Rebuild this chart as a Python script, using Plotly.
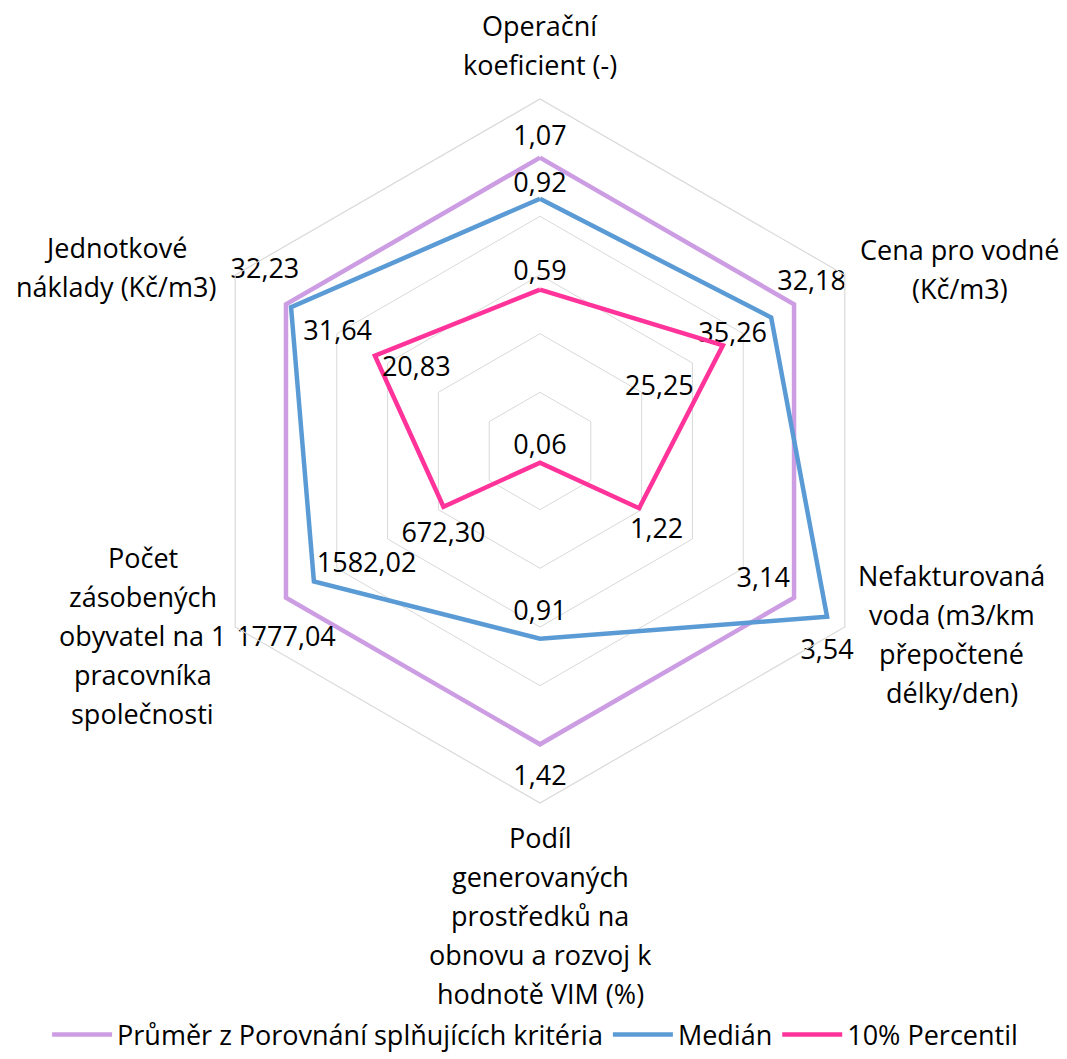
import plotly.graph_objects as go

categories = [
    "Operační<br>koeficient (-)",
    "Cena pro vodné<br>(Kč/m3)",
    "Nefakturovaná<br>voda (m3/km<br>přepočtené<br>délky/den)",
    "Podíl<br>generovaných<br>prostředků na<br>obnovu a rozvoj k<br>hodnotě VIM (%)",
    "Počet<br>zásobených<br>obyvatel na 1<br>pracovníka<br>společnosti",
    "Jednotkové<br>náklady (Kč/m3)",
]

series_names = ["Průměr z Porovnání splňujících kritéria", "Medián", "10% Percentil"]

# plotted (relative) values
prumer_r = [1.00, 1.00, 1.00, 1.00, 1.00, 1.00]
median_r = [0.86, 0.91, 1.13, 0.64, 0.89, 0.98]
perc10_r = [0.55, 0.72, 0.39, 0.04, 0.38, 0.65]

# data labels shown on the chart
prumer_lbl = ["1,07", "32,18", "3,14", "1,42", "1777,04", "32,23"]
median_lbl = ["0,92", "35,26", "3,54", "0,91", "1582,02", "31,64"]
perc10_lbl = ["0,59", "25,25", "1,22", "0,06", "672,30", "20,83"]

# ---- styling ----
colors = ["#cc9de3", "#5b9bd5", "#ff3399"]
prumer_pos = ["top center", "top center", "top left", "bottom center", "bottom center", "top center"]
median_pos = ["top center", "bottom left", "bottom center", "top center", "top right", "bottom right"]
perc10_pos = ["top center", "bottom left", "bottom center", "top center", "bottom center", "bottom right"]
# invisible marker sizes used only to set the label distance from each point
prumer_gap = [8, 11, 5, 31, 44, 30]
median_gap = [0, 5, 34, 18, 3, 18]
perc10_gap = [3, 45, 13, 2, 22, 0]
# horizontal nudges (in no-break spaces; + = right, - = left)
prumer_nudge = [0, 5, 0, 0, 0, -6]
median_nudge = [0, 0, 0, 0, 0, 0]
perc10_nudge = [0, 0, 5, 0, 0, 1]

NBSP = "\u00a0"


def nudge(lbls, shifts):
    out = []
    for t, s in zip(lbls, shifts):
        if s > 0:
            out.append(NBSP * s + t)
        elif s < 0:
            out.append(t + NBSP * (-s))
        else:
            out.append(t)
    return out


FONT = "Open Sans"
FS = 27
fig = go.Figure()
for name, r, lbl, pos, gap, sh, col in [
    (series_names[0], prumer_r, prumer_lbl, prumer_pos, prumer_gap, prumer_nudge, colors[0]),
    (series_names[1], median_r, median_lbl, median_pos, median_gap, median_nudge, colors[1]),
    (series_names[2], perc10_r, perc10_lbl, perc10_pos, perc10_gap, perc10_nudge, colors[2]),
]:
    fig.add_trace(go.Scatterpolar(
        r=r + [r[0]],
        theta=categories + [categories[0]],
        mode="lines+markers+text",
        text=nudge(lbl, sh) + [""],
        textposition=pos + [pos[0]],
        textfont=dict(family=FONT, size=FS, color="#000000"),
        marker=dict(size=gap + [0], color="rgba(0,0,0,0)", line=dict(width=0)),
        line=dict(color=col, width=4.5),
        name=name,
        cliponaxis=False,
        hoverinfo="r+theta+name",
    ))

# category labels (centred multi-line text, as in the original)
label_xy = [(0.4986, 0.9655), (0.8922, 0.7535), (0.8847, 0.4089),
            (0.4986, 0.1435), (0.1265, 0.4079), (0.1012, 0.7554)]
LINE_H = 39
annotations = []
for cat, (ax, ay) in zip(categories, label_xy):
    lines = cat.split("<br>")
    n = len(lines)
    for j, ln in enumerate(lines):
        annotations.append(dict(
            x=ax, y=ay, xref="paper", yref="paper",
            xanchor="center", yanchor="middle",
            yshift=-(j - (n - 1) / 2) * LINE_H,
            text=ln, showarrow=False,
            font=dict(family=FONT, size=FS, color="#000000"),
        ))

fig.update_layout(
    width=1067, height=1059,
    margin=dict(l=0, r=0, t=0, b=0),
    paper_bgcolor="white",
    font=dict(family=FONT, size=FS, color="#000000"),
    polar=dict(
        domain=dict(x=[0.1687, 0.8285], y=[0.2493, 0.9141]),
        bgcolor="white",
        gridshape="linear",
        radialaxis=dict(
            range=[0, 1.2],
            tickvals=[0.2, 0.4, 0.6, 0.8, 1.0],
            showticklabels=False,
            ticks="",
            showline=False,
            gridcolor="#d9d9d9",
            gridwidth=1.2,
        ),
        angularaxis=dict(
            rotation=90,
            direction="clockwise",
            showgrid=False,
            showline=True,
            linecolor="#d9d9d9",
            linewidth=1.2,
            ticks="",
            showticklabels=False,
        ),
    ),
    annotations=annotations,
    showlegend=True,
    legend=dict(
        orientation="h",
        x=0.494, xanchor="center",
        y=0.0302, yanchor="middle",
        font=dict(family=FONT, size=FS, color="#000000"),
        itemwidth=60,
    ),
)

fig.write_html("out.html")
